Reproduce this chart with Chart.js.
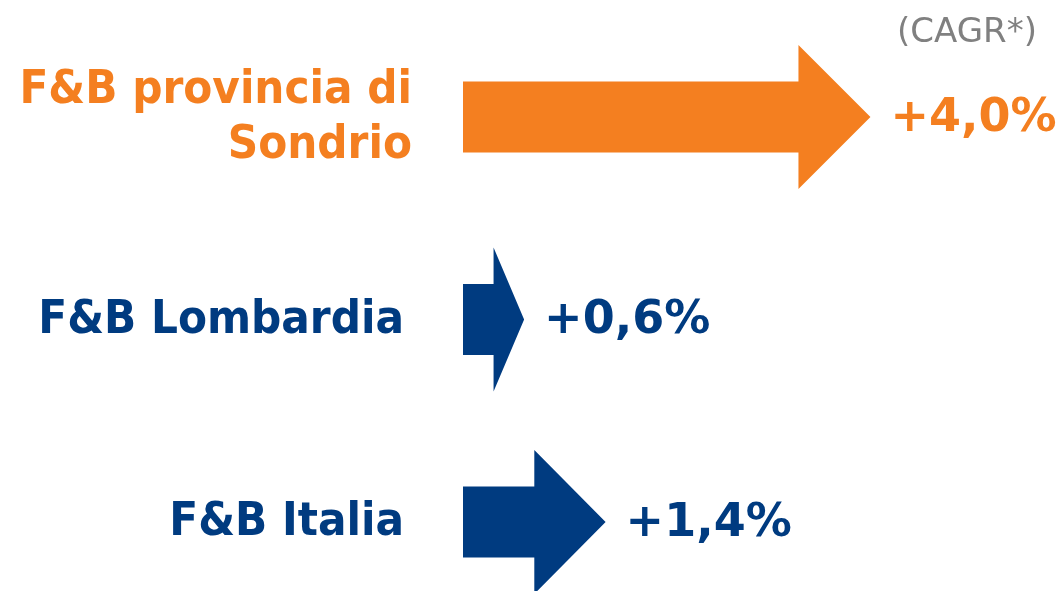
<!DOCTYPE html>
<html>
<head>
<meta charset="utf-8">
<script src="https://cdn.jsdelivr.net/npm/chart.js@4/dist/chart.umd.min.js"></script>
<style>
  html, body { margin: 0; padding: 0; background: #ffffff; }
  #wrap { width: 1064px; height: 591px; position: relative; }
</style>
</head>
<body>
<div id="wrap"><canvas id="c"></canvas></div>
<script>
// ---- data ----
const categories = [["F&B provincia di", "Sondrio"], ["F&B Lombardia"], ["F&B Italia"]];
const cagrValues = [4.0, 0.6, 1.4];
const valueLabels = ["+4,0%", "+0,6%", "+1,4%"];
const unitNote = "(CAGR*)";

// ---- styles ----
const ORANGE = "#F47F20";
const BLUE = "#003B80";
const rowColors = [ORANGE, BLUE, BLUE];
const labelRight = [412, 404, 404];

const arrowPlugin = {
  id: "arrows",
  afterDatasetsDraw(chart) {
    const ctx = chart.ctx;
    const meta = chart.getDatasetMeta(0);
    const bodyHalf = 35.5;
    const headHalf = 72;
    meta.data.forEach((el, i) => {
      const { x, y, base } = el.getProps(["x", "y", "base"], true);
      const len = x - base;
      const headLen = Math.min(72, len / 2);
      const neck = x - headLen;
      ctx.save();
      ctx.fillStyle = rowColors[i];
      ctx.beginPath();
      ctx.moveTo(base, y - bodyHalf);
      ctx.lineTo(neck, y - bodyHalf);
      ctx.lineTo(neck, y - headHalf);
      ctx.lineTo(x, y);
      ctx.lineTo(neck, y + headHalf);
      ctx.lineTo(neck, y + bodyHalf);
      ctx.lineTo(base, y + bodyHalf);
      ctx.closePath();
      ctx.fill();

      // value label
      ctx.font = "bold 46px 'DejaVu Sans', sans-serif";
      ctx.textAlign = "left";
      ctx.textBaseline = "middle";
      ctx.fillText(valueLabels[i], x + 20, y + 2);

      // category label
      ctx.font = "bold 47px 'DejaVu Sans Condensed', 'DejaVu Sans', sans-serif";
      ctx.textAlign = "right";
      const lines = categories[i];
      const lh = 55;
      const startY = y - (lines.length - 1) * lh / 2;
      lines.forEach((t, k) => ctx.fillText(t, labelRight[i], startY + k * lh + 1));
      ctx.restore();
    });

    // unit note
    ctx.save();
    ctx.fillStyle = "#808080";
    ctx.font = "34px 'DejaVu Sans', sans-serif";
    ctx.textAlign = "left";
    ctx.textBaseline = "alphabetic";
    ctx.fillText(unitNote, 897, 42);
    ctx.restore();
  }
};

new Chart(document.getElementById("c"), {
  type: "bar",
  data: {
    labels: categories.map(l => l.join(" ")),
    datasets: [{
      data: cagrValues,
      backgroundColor: "rgba(0,0,0,0)",
      borderWidth: 0,
      barThickness: 71,
      clip: false
    }]
  },
  options: {
    indexAxis: "y",
    responsive: true,
    maintainAspectRatio: false,
    animation: false,
    layout: { padding: { left: 463, right: 0, top: 117, bottom: 69 } },
    scales: {
      x: { type: "linear", min: 0, max: 5.9, display: false },
      y: { display: false, offset: false }
    },
    plugins: { legend: { display: false }, tooltip: { enabled: false } }
  },
  plugins: [arrowPlugin]
});
</script>
</body>
</html>
